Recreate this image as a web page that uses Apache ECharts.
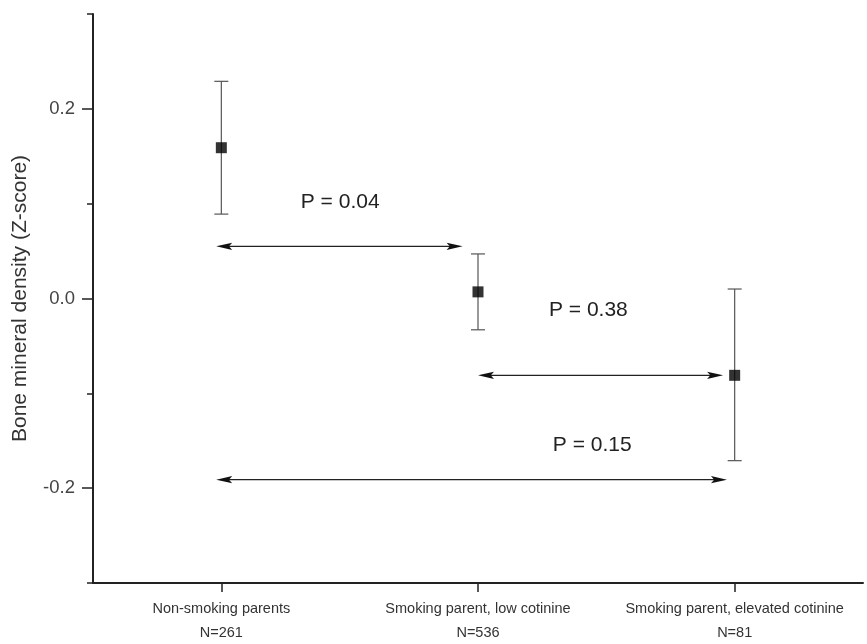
<!DOCTYPE html>
<html>
<head>
<meta charset="utf-8">
<script src="https://cdn.jsdelivr.net/npm/echarts@6/dist/echarts.min.js"></script>
<style>
html,body{margin:0;padding:0;background:#fff;}
#chart{width:867px;height:644px;}
</style>
</head>
<body>
<div id="chart"></div>
<script>
// ---- data ----
var groupPos = [1, 2, 3];
var groupNames = ['Non-smoking parents', 'Smoking parent, low cotinine', 'Smoking parent, elevated cotinine'];
var groupN = ['N=261', 'N=536', 'N=81'];
var means = [0.159, 0.007, -0.081];
var lower = [0.089, -0.033, -0.171];
var upper = [0.229, 0.047, 0.010];
// comparison arrows: from x, to x, at y
var arrowFrom = [0.98, 2.0, 0.98];
var arrowTo = [1.94, 2.955, 2.97];
var arrowY = [0.055, -0.081, -0.191];
// p-value annotations
var pText = ['P = 0.04', 'P = 0.38', 'P = 0.15'];
var pX = [1.463, 2.43, 2.445];
var pY = [0.102, -0.012, -0.155];
var yMajorTicks = [-0.2, 0, 0.2];
var yMinorTicks = [-0.3, -0.1, 0.1, 0.3];

var FONT = '"Liberation Sans", Arial, sans-serif';
var chart = echarts.init(document.getElementById('chart'));

var errData = groupPos.map(function (x, i) { return [x, lower[i], upper[i]]; });
var ptData = groupPos.map(function (x, i) { return [x, means[i]]; });
var arrData = arrowY.map(function (y, i) { return [arrowFrom[i], arrowTo[i], y]; });
var pData = pText.map(function (t, i) { return [pX[i], pY[i], t]; });

function arrowHead(tip, dir) {
  var L = 16, H = 3.6;
  return {
    type: 'polygon',
    shape: { points: [[tip[0], tip[1]], [tip[0] - dir * L, tip[1] - H], [tip[0] - dir * L * 0.8, tip[1]], [tip[0] - dir * L, tip[1] + H]] },
    style: { fill: '#111' }
  };
}

chart.setOption({
  animation: false,
  backgroundColor: '#fff',
  grid: { left: 93, right: 4, top: 14, bottom: 61, containLabel: false, outerBoundsMode: 'none' },
  xAxis: {
    type: 'value', min: 0.5, max: 3.5,
    axisLine: { show: true, onZero: false, lineStyle: { color: '#222', width: 2 } },
    axisTick: { show: true, customValues: groupPos, length: 9, lineStyle: { color: '#222', width: 1.5 } },
    axisLabel: {
      customValues: groupPos, margin: 14, color: '#333', fontFamily: FONT, fontSize: 14.5,
      lineHeight: 24,
      formatter: function (v) {
        var i = groupPos.indexOf(Math.round(v));
        return i < 0 ? '' : groupNames[i] + '\n' + groupN[i];
      }
    },
    splitLine: { show: false }
  },
  yAxis: [{
    type: 'value', min: -0.3, max: 0.3,
    name: 'Bone mineral density (Z-score)', nameLocation: 'middle', nameGap: 62,
    nameTextStyle: { fontFamily: FONT, fontSize: 21, color: '#333' },
    axisLine: { show: true, onZero: false, lineStyle: { color: '#222', width: 2 } },
    axisTick: { show: true, customValues: yMajorTicks, length: 11, lineStyle: { color: '#222', width: 1.5 } },
    axisLabel: {
      customValues: yMajorTicks, margin: 18, color: '#444', fontFamily: FONT, fontSize: 18.5,
      formatter: function (v) { return v.toFixed(1); }
    },
    splitLine: { show: false }
  }, {
    type: 'value', min: -0.3, max: 0.3, position: 'left', offset: 0,
    axisLine: { show: false, onZero: false },
    axisTick: { show: true, customValues: yMinorTicks, length: 6, lineStyle: { color: '#222', width: 1.5 } },
    axisLabel: { show: false },
    splitLine: { show: false }
  }],
  series: [{
    type: 'custom',
    data: errData,
    renderItem: function (params, api) {
      var lo = api.coord([api.value(0), api.value(1)]);
      var hi = api.coord([api.value(0), api.value(2)]);
      var w = 7;
      var st = { stroke: '#555', lineWidth: 1.2 };
      return {
        type: 'group', children: [
          { type: 'line', shape: { x1: lo[0], y1: lo[1], x2: hi[0], y2: hi[1] }, style: st },
          { type: 'line', shape: { x1: lo[0] - w, y1: lo[1], x2: lo[0] + w, y2: lo[1] }, style: st },
          { type: 'line', shape: { x1: hi[0] - w, y1: hi[1], x2: hi[0] + w, y2: hi[1] }, style: st }
        ]
      };
    },
    z: 2
  }, {
    type: 'scatter',
    data: ptData,
    symbol: 'rect', symbolSize: 11,
    itemStyle: { color: '#000' },
    z: 3
  }, {
    type: 'custom',
    data: arrData,
    renderItem: function (params, api) {
      var a = api.coord([api.value(0), api.value(2)]);
      var b = api.coord([api.value(1), api.value(2)]);
      return {
        type: 'group', children: [
          { type: 'line', shape: { x1: a[0] + 10, y1: a[1], x2: b[0] - 10, y2: b[1] }, style: { stroke: '#222', lineWidth: 1.2 } },
          arrowHead(a, -1),
          arrowHead(b, 1)
        ]
      };
    },
    z: 4
  }, {
    type: 'custom',
    data: pData,
    renderItem: function (params, api) {
      var p = api.coord([api.value(0), api.value(1)]);
      return {
        type: 'text',
        style: {
          text: pText[params.dataIndex], x: p[0], y: p[1],
          textAlign: 'center', textVerticalAlign: 'middle',
          font: '21px ' + FONT, fill: '#222'
        }
      };
    },
    z: 5
  }]
});
</script>
</body>
</html>
